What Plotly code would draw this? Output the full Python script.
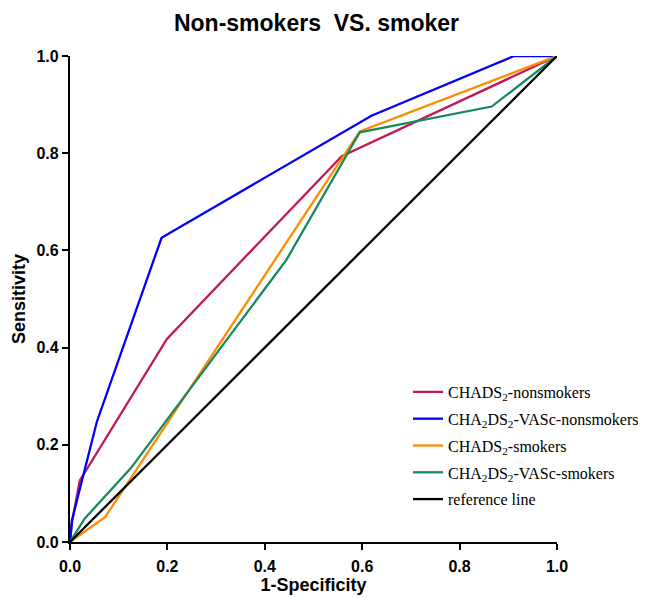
import plotly.graph_objects as go

# ROC data
chads_non_x = [0.0, 0.004, 0.02, 0.199, 0.558, 1.0]
chads_non_y = [0.0, 0.04, 0.126, 0.418, 0.794, 1.0]

vasc_non_x = [0.0, 0.004, 0.055, 0.188, 0.619, 0.912, 1.0]
vasc_non_y = [0.0, 0.045, 0.247, 0.626, 0.877, 1.0, 1.0]

chads_smk_x = [0.0, 0.072, 0.595, 1.0]
chads_smk_y = [0.0, 0.051, 0.845, 1.0]

vasc_smk_x = [0.0, 0.03, 0.125, 0.444, 0.595, 0.866, 1.0]
vasc_smk_y = [0.0, 0.048, 0.152, 0.58, 0.843, 0.896, 1.0]

ref_x = [0.0, 1.0]
ref_y = [0.0, 1.0]

series_names = [
    "CHADS<sub>2</sub>-nonsmokers",
    "CHA<sub>2</sub>DS<sub>2</sub>-VASc-nonsmokers",
    "CHADS<sub>2</sub>-smokers",
    "CHA<sub>2</sub>DS<sub>2</sub>-VASc-smokers",
    "reference line",
]
series_colors = ["#C2185B", "#0000FF", "#FF8C00", "#168A5E", "#000000"]
series_x = [chads_non_x, vasc_non_x, chads_smk_x, vasc_smk_x, ref_x]
series_y = [chads_non_y, vasc_non_y, chads_smk_y, vasc_smk_y, ref_y]

tick_vals = [0.0, 0.2, 0.4, 0.6, 0.8, 1.0]
tick_text = ["0.0", "0.2", "0.4", "0.6", "0.8", "1.0"]

fig = go.Figure()
for i, (n, c, xs, ys) in enumerate(zip(series_names, series_colors, series_x, series_y)):
    fig.add_trace(go.Scatter(x=xs, y=ys, mode="lines", name=n,
                             line=dict(color=c, width=2.3),
                             legendgroup=f"g{i}"))

axis_common = dict(
    range=[0, 1], tickvals=tick_vals, ticktext=tick_text,
    showline=True, linecolor="black", linewidth=2.2,
    ticks="outside", ticklen=6, tickwidth=2.2, tickcolor="black",
    showgrid=False, zeroline=False, automargin=False,
    tickfont=dict(family="Liberation Sans, Arial", size=16, color="black", weight="bold"),
)

# the page adds an 8px body margin, so the figure is sized to fit the window
fig.update_layout(
    width=638, height=590,
    margin=dict(l=62, r=89, t=48, b=56, autoexpand=False),
    paper_bgcolor="white", plot_bgcolor="white",
    title=dict(text="Non-smokers  VS. smoker", x=0.4835, xanchor="center", y=0.975, yanchor="middle",
               font=dict(family="Liberation Sans, Arial", size=23, color="black", weight="bold")),
    xaxis=dict(**axis_common, ticklabelstandoff=3,
               title=dict(text="1-Specificity", standoff=4,
                          font=dict(family="Liberation Sans, Arial", size=18, color="black", weight="bold"))),
    yaxis=dict(**axis_common,
               title=dict(text="Sensitivity", standoff=6,
                          font=dict(family="Liberation Sans, Arial", size=18, color="black", weight="bold"))),
    legend=dict(x=0.627, y=0.378, xref="container", yref="container",
                xanchor="left", yanchor="top",
                font=dict(family="Liberation Serif, Times New Roman", size=16, color="black"),
                bgcolor="rgba(0,0,0,0)", traceorder="grouped", tracegroupgap=3,
                itemwidth=30),
    showlegend=True,
)

fig.write_html("out.html")
